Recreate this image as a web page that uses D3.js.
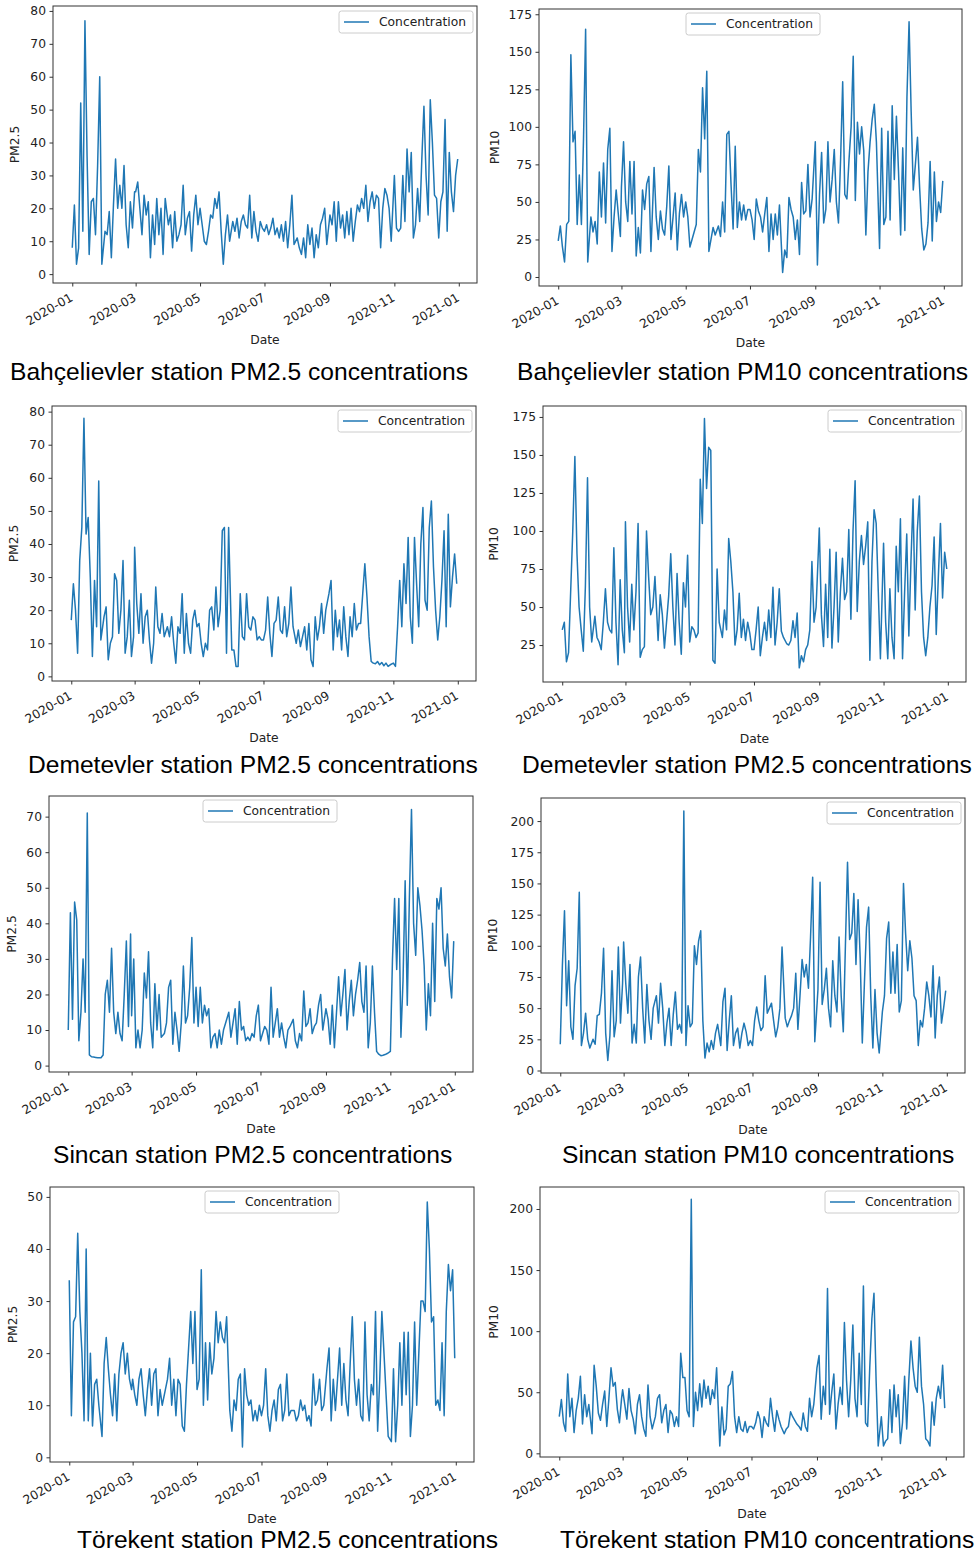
<!DOCTYPE html>
<html>
<head>
<meta charset="utf-8">
<script src="https://cdn.jsdelivr.net/npm/d3@7"></script>
<style>
  body { margin: 0; background: #fff; }
  svg text { font-family: "DejaVu Sans", sans-serif; fill: #222; }
  .title { font-family: "Liberation Sans", Arial, sans-serif; fill: #000; }
</style>
</head>
<body>
<svg id="chart" width="977" height="1557"></svg>
<script>
// readings are taken every second day of each month (plus 31 Dec)
const sampleDays = [1, 3, 5, 7, 9, 11, 13, 15, 17, 19, 21, 23, 25, 27, 29];
const xTickLabels = ["2020-01", "2020-03", "2020-05", "2020-07", "2020-09", "2020-11", "2021-01"];

// one row per month, Jan..Dec
const bahcelievlerPM25 = [
  8, 21, 3, 8, 52, 13, 77, 36, 6, 22, 23, 12, 33, 60, 3,
  13, 12, 19, 5, 21, 35, 20, 27, 20, 33, 15, 8, 22, 14, 25,
  25, 28, 20, 12, 24, 18, 22, 5, 18, 9, 23, 12, 20, 6, 23,
  15, 18, 8, 19, 10, 12, 15, 27, 12, 17, 19, 7, 18, 24, 15,
  20, 15, 10, 9, 13, 18, 17, 23, 20, 25, 13, 3, 12, 18, 10,
  16, 13, 17, 11, 16, 18, 15, 14, 24, 11, 19, 13, 10, 16, 14,
  13, 15, 12, 14, 17, 12, 14, 11, 15, 10, 16, 8, 15, 24, 9,
  11, 8, 6, 11, 5, 15, 9, 14, 5, 12, 8, 15, 17, 20, 9,
  18, 15, 22, 10, 22, 14, 18, 11, 19, 12, 20, 10, 16, 21, 19,
  23, 20, 27, 16, 22, 25, 20, 24, 23, 8, 20, 26, 24, 20, 10,
  30, 14, 13, 14, 30, 16, 38, 25, 37, 11, 15, 26, 16, 35, 51,
  30, 18, 53, 40, 24, 23, 11, 22, 25, 47, 13, 37, 25, 19, 30, 35
];
const bahcelievlerPM10 = [
  24, 34, 20, 10, 35, 37, 148, 90, 97, 35, 68, 35, 92, 165, 10,
  40, 30, 37, 22, 70, 40, 76, 36, 85, 99, 17, 40, 58, 42, 27,
  60, 90, 50, 37, 77, 42, 77, 14, 33, 16, 58, 45, 62, 67, 17,
  73, 40, 25, 44, 32, 28, 47, 74, 25, 40, 56, 18, 42, 55, 40,
  50, 40, 20, 25, 30, 35, 85, 70, 126, 92, 137, 17, 25, 33, 28,
  34, 27, 50, 30, 95, 97, 62, 32, 87, 33, 50, 38, 48, 38, 45,
  45, 38, 25, 52, 44, 40, 30, 42, 53, 17, 42, 25, 42, 28, 48,
  3, 18, 13, 53, 45, 40, 25, 38, 15, 63, 42, 44, 75, 40, 52,
  90, 8, 55, 83, 36, 45, 90, 50, 65, 85, 50, 36, 78, 130, 55,
  52, 78, 100, 147, 51, 103, 82, 100, 84, 28, 70, 90, 105, 115, 90,
  19, 99, 35, 40, 97, 38, 114, 65, 107, 70, 28, 86, 31, 120, 170,
  110, 58, 75, 93, 60, 32, 18, 22, 36, 77, 24, 70, 37, 50, 43, 64
];
const demetevlerPM25 = [
  17, 28, 20, 7, 35, 45, 78, 43, 48, 30, 6, 29, 15, 59, 11,
  18, 21, 5, 10, 12, 31, 29, 13, 20, 35, 7, 12, 23, 6, 12,
  39, 22, 13, 25, 10, 18, 20, 11, 4, 10, 27, 15, 13, 19, 12,
  15, 12, 18, 10, 4, 15, 13, 25, 7, 19, 10, 7, 17, 20, 15,
  16, 10, 6, 10, 8, 20, 21, 14, 27, 15, 20, 44, 45, 7, 45,
  8, 8, 3, 3, 25, 12, 11, 25, 15, 14, 18, 17, 11, 12, 11,
  11, 14, 24, 13, 6, 16, 17, 24, 14, 13, 21, 12, 16, 27, 15,
  10, 14, 9, 12, 15, 8, 16, 5, 3, 18, 11, 15, 22, 13, 20,
  25, 29, 8, 20, 12, 17, 8, 21, 12, 6, 18, 12, 22, 14, 16,
  16, 25, 34, 24, 12, 4.5, 4, 3.8, 4.5, 3.5, 4.2, 3.2, 4, 3, 3.5,
  4, 3, 15, 29, 15, 34, 22, 42, 18, 10, 42, 28, 15, 40, 51,
  23, 20, 45, 53, 33, 20, 11, 18, 29, 44, 15, 49, 21, 30, 37, 28
];
const demetevlerPM10 = [
  35, 40, 14, 20, 60, 100, 149, 85, 50, 35, 21, 64, 135, 50, 27,
  44, 30, 27, 22, 40, 62, 40, 35, 33, 89, 40, 12, 68, 35, 20,
  106, 50, 27, 65, 35, 60, 105, 17, 22, 24, 100, 70, 45, 50, 70,
  28, 58, 45, 23, 40, 57, 85, 50, 25, 72, 40, 19, 66, 50, 84,
  27, 37, 35, 30, 33, 134, 105, 174, 128, 155, 153, 15, 13, 75, 40,
  30, 48, 35, 95, 80, 60, 25, 35, 59, 30, 42, 28, 40, 33, 22,
  22, 35, 50, 18, 30, 40, 28, 48, 30, 63, 25, 40, 62, 34, 30,
  26, 25, 28, 41, 30, 46, 10, 18, 14, 22, 25, 35, 80, 40, 50,
  102, 45, 24, 65, 30, 88, 23, 50, 86, 27, 60, 82, 55, 60, 101,
  42, 100, 133, 47, 80, 97, 78, 90, 106, 15, 80, 114, 105, 60, 16,
  92, 40, 16, 62, 30, 16, 90, 60, 108, 16, 60, 98, 31, 80, 121,
  48, 100, 123, 60, 30, 18, 30, 50, 64, 96, 32, 70, 105, 56, 86, 75
];
const sincanPM25 = [
  10, 43, 13, 46, 41, 7, 15, 30, 15, 71, 3, 2.5, 2.4, 2.3, 2.2,
  2.2, 3, 20, 24, 15, 33, 15, 9, 15, 9, 7, 20, 35, 11, 37,
  14, 30, 5, 10, 5, 10, 26, 19, 32, 12, 5, 23, 10, 20, 8,
  9, 12, 22, 24, 6, 15, 10, 4, 12, 28, 12, 14, 22, 36, 12,
  22, 11, 22, 12, 17, 14, 16, 5, 8, 9, 5, 10, 6, 10, 12,
  15, 8, 12, 16, 6, 18, 10, 11, 7, 8, 7, 9, 8, 14, 17,
  7, 9, 11, 10, 6, 22, 8, 12, 16, 8, 12, 8, 5, 10, 11,
  13, 7, 5, 9, 7, 21, 11, 12, 16, 9, 11, 12, 17, 20, 10,
  16, 13, 6, 17, 5, 15, 25, 14, 20, 27, 10, 18, 24, 14, 20,
  24, 29, 18, 15, 28, 5, 12, 28, 15, 4, 3.2, 2.8, 2.9, 3.1, 3.4,
  4, 30, 47, 27, 47, 8, 24, 52, 17, 47, 72, 40, 31, 50, 45,
  38, 28, 10, 23, 14, 40, 18, 47, 44, 50, 33, 28, 37, 25, 19, 35
];
const sincanPM10 = [
  21, 84, 128, 52, 88, 35, 25, 68, 82, 143, 20, 30, 46, 25, 18,
  25, 21, 44, 45, 62, 98, 30, 8, 28, 80, 27, 40, 99, 38, 70,
  103, 70, 46, 85, 22, 37, 22, 75, 91, 50, 22, 69, 40, 25, 50,
  60, 38, 70, 50, 20, 38, 50, 20, 45, 63, 33, 37, 30, 208, 20,
  52, 35, 38, 100, 85, 104, 112, 40, 10, 22, 15, 24, 17, 30, 37,
  20, 55, 66, 16, 40, 60, 20, 30, 34, 18, 30, 38, 31, 20, 24,
  20, 40, 51, 40, 32, 35, 76, 46, 50, 54, 40, 27, 35, 50, 99,
  42, 35, 40, 44, 50, 78, 33, 60, 89, 75, 85, 66, 107, 155, 23,
  65, 151, 53, 65, 82, 50, 35, 88, 60, 47, 107, 60, 31, 100, 167,
  105, 110, 142, 85, 137, 90, 22, 70, 115, 131, 60, 18, 65, 30, 14,
  47, 60, 106, 119, 62, 95, 62, 101, 47, 56, 150, 110, 80, 104, 90,
  60, 56, 20, 40, 35, 50, 71, 60, 43, 84, 26, 60, 75, 38, 50, 64
];
const torekentPM25 = [
  34, 8, 26, 27, 43, 28, 20, 7, 40, 7, 20, 6, 14, 15, 10,
  4, 18, 23, 17, 12, 8, 16, 7, 16, 20, 22, 16, 20, 15, 13,
  15, 12, 10, 15, 17, 12, 8, 13, 17, 10, 16, 17, 8, 13, 10,
  13, 15, 19, 10, 15, 8, 15, 14, 6, 5, 14, 21, 28, 18, 28,
  13, 15, 36, 10, 22, 11, 22, 16, 19, 28, 22, 26, 23, 22, 27,
  9, 5, 11, 9, 15, 16, 2, 17, 12, 10, 11, 7, 9, 7, 10,
  8, 10, 17, 8, 5, 9, 11, 7, 13, 14, 7, 9, 16, 8, 9,
  9, 7, 8, 11, 9, 10, 7, 8, 6, 16, 10, 11, 15, 9, 10,
  17, 21, 7, 15, 9, 15, 21, 10, 18, 11, 8, 18, 27, 15, 10,
  15, 8, 7, 26, 12, 7, 14, 12, 28, 5, 15, 28, 20, 12, 4,
  3, 17, 3, 10, 22, 10, 24, 12, 24, 4, 10, 26, 10, 20, 30,
  30, 28, 49, 40, 26, 27, 10, 11, 9, 22, 8, 28, 37, 32, 36, 19
];
const torekentPM10 = [
  30, 44, 25, 18, 65, 30, 45, 17, 35, 45, 63, 24, 48, 30, 40,
  16, 72, 55, 33, 27, 40, 51, 22, 45, 70, 55, 58, 36, 25, 45,
  52, 40, 28, 53, 35, 28, 16, 40, 48, 30, 20, 14, 56, 30, 20,
  30, 45, 48, 25, 35, 40, 17, 35, 32, 22, 30, 22, 82, 62, 62,
  35, 30, 208, 22, 50, 35, 57, 38, 60, 45, 55, 40, 52, 45, 70,
  6, 38, 15, 20, 55, 57, 67, 30, 17, 30, 20, 18, 26, 17, 22,
  22, 20, 25, 34, 28, 13, 30, 25, 22, 45, 30, 18, 35, 28, 22,
  16, 20, 22, 34, 30, 27, 24, 22, 19, 33, 22, 18, 45, 30, 40,
  70, 80, 28, 55, 40, 135, 32, 50, 65, 20, 40, 54, 40, 107, 60,
  30, 60, 105, 45, 30, 82, 40, 137, 25, 22, 70, 110, 131, 60, 6,
  30, 6, 10, 12, 52, 17, 56, 30, 48, 8, 25, 63, 20, 60, 92,
  70, 55, 50, 95, 55, 40, 12, 10, 6, 42, 23, 45, 55, 45, 72, 37
];

const titles = [
  "Bahçelievler station PM2.5 concentrations",
  "Bahçelievler station PM10 concentrations",
  "Demetevler station PM2.5 concentrations",
  "Demetevler station PM2.5 concentrations",
  "Sincan station PM2.5 concentrations",
  "Sincan station PM10 concentrations",
  "Törekent station PM2.5 concentrations",
  "Törekent station PM10 concentrations"
];
const yLabels = ["PM2.5", "PM10", "PM2.5", "PM10", "PM2.5", "PM10", "PM2.5", "PM10"];
const yTicks = [
  [0, 10, 20, 30, 40, 50, 60, 70, 80],
  [0, 25, 50, 75, 100, 125, 150, 175],
  [0, 10, 20, 30, 40, 50, 60, 70, 80],
  [25, 50, 75, 100, 125, 150, 175],
  [0, 10, 20, 30, 40, 50, 60, 70],
  [0, 25, 50, 75, 100, 125, 150, 175, 200],
  [0, 10, 20, 30, 40, 50],
  [0, 50, 100, 150, 200]
];
const series = [bahcelievlerPM25, bahcelievlerPM10, demetevlerPM25, demetevlerPM10,
                sincanPM25, sincanPM10, torekentPM25, torekentPM10];

// page geometry of each subplot (pixels)
const layout = [
  {l: 53,  r: 477, t: 6,    b: 283,  y: [-2.7, 81.5],  legend: [339, 11],  ylabX: 15,  titleX: 10,  titleY: 380},
  {l: 539, r: 962, t: 9,    b: 286,  y: [-6, 178.5],   legend: [686, 13],  ylabX: 495, titleX: 517, titleY: 380},
  {l: 52,  r: 476, t: 406,  b: 681,  y: [-1.4, 81.7],  legend: [338, 410], ylabX: 14,  titleX: 28,  titleY: 773},
  {l: 543, r: 966, t: 406,  b: 682,  y: [0.7, 182.2],  legend: [828, 410], ylabX: 494, titleX: 522, titleY: 773},
  {l: 49,  r: 473, t: 796,  b: 1072, y: [-1.8, 75.8],  legend: [203, 800], ylabX: 12,  titleX: 53,  titleY: 1163},
  {l: 541, r: 965, t: 798,  b: 1073, y: [-2, 218.5],   legend: [827, 802], ylabX: 493, titleX: 562, titleY: 1163},
  {l: 50,  r: 474, t: 1187, b: 1462, y: [-0.9, 51.9],  legend: [205, 1191], ylabX: 13, titleX: 77,  titleY: 1548},
  {l: 540, r: 964, t: 1187, b: 1457, y: [-3, 218],     legend: [825, 1191], ylabX: 494, titleX: 560, titleY: 1548}
];

const dates = [];
for (let m = 0; m < 12; m++) {
  sampleDays.forEach(function(d) { dates.push(new Date(2020, m, d)); });
}
dates.push(new Date(2020, 11, 31));

const parseMonth = d3.timeParse("%Y-%m");
const xTicks = xTickLabels.map(parseMonth);
// matplotlib style 5% margin on the time axis
const xDomain = [d3.timeHour.offset(new Date(2020, 0, 1), -438), d3.timeHour.offset(new Date(2020, 11, 31), 438)];

const svg = d3.select("#chart");
const blue = "#1f77b4";
const fs = 12.3;

layout.forEach(function(p, i) {
  const x = d3.scaleTime().domain(xDomain).range([p.l, p.r]);
  const y = d3.scaleLinear().domain(p.y).range([p.b, p.t]);
  const g = svg.append("g");

  // line
  const data = series[i].map(function(v, k) { return {date: dates[k], value: v}; });
  const line = d3.line().x(function(d) { return x(d.date); }).y(function(d) { return y(d.value); });
  g.append("path").datum(data)
    .attr("d", line)
    .attr("fill", "none")
    .attr("stroke", blue)
    .attr("stroke-width", 1.5)
    .attr("stroke-linejoin", "round");

  // frame
  g.append("rect")
    .attr("x", p.l).attr("y", p.t)
    .attr("width", p.r - p.l).attr("height", p.b - p.t)
    .attr("fill", "none").attr("stroke", "#333").attr("stroke-width", 1);

  // y axis
  const ya = g.append("g")
    .attr("transform", "translate(" + p.l + ",0)")
    .call(d3.axisLeft(y).tickValues(yTicks[i]).tickSize(3.5).tickPadding(3.5));
  ya.select(".domain").remove();
  ya.selectAll("line").attr("stroke", "#333");
  ya.selectAll("text").attr("font-size", fs).attr("font-family", null).attr("fill", "#222");

  // x axis
  const xa = g.append("g")
    .attr("transform", "translate(0," + p.b + ")")
    .call(d3.axisBottom(x).tickValues(xTicks).tickSize(3.5).tickFormat(d3.timeFormat("%Y-%m")));
  xa.select(".domain").remove();
  xa.selectAll("line").attr("stroke", "#333");
  xa.selectAll("text")
    .attr("font-size", fs).attr("font-family", null).attr("fill", "#222")
    .attr("y", 0).attr("dy", 0)
    .attr("text-anchor", "end")
    .attr("transform", "translate(1,17) rotate(-30)");

  // axis labels
  g.append("text")
    .attr("transform", "translate(" + p.ylabX + "," + ((p.t + p.b) / 2) + ") rotate(-90)")
    .attr("text-anchor", "middle").attr("dy", "0.35em")
    .attr("font-size", fs)
    .text(yLabels[i]);
  g.append("text")
    .attr("x", (p.l + p.r) / 2).attr("y", p.b + 56.5)
    .attr("text-anchor", "middle").attr("dy", "0.35em")
    .attr("font-size", fs)
    .text("Date");

  // legend
  const lg = g.append("g").attr("transform", "translate(" + p.legend[0] + "," + p.legend[1] + ")");
  lg.append("rect")
    .attr("width", 134).attr("height", 22).attr("rx", 2.5)
    .attr("fill", "#fff").attr("fill-opacity", 0.8)
    .attr("stroke", "#ccc").attr("stroke-width", 1);
  lg.append("line")
    .attr("x1", 5).attr("x2", 30).attr("y1", 11).attr("y2", 11)
    .attr("stroke", blue).attr("stroke-width", 1.5);
  lg.append("text")
    .attr("x", 40).attr("y", 11).attr("dy", "0.35em")
    .attr("font-size", fs)
    .text("Concentration");

  // caption under each subplot
  svg.append("text")
    .attr("class", "title")
    .attr("x", p.titleX).attr("y", p.titleY)
    .attr("font-size", 24.6)
    .text(titles[i]);
});
</script>
</body>
</html>
